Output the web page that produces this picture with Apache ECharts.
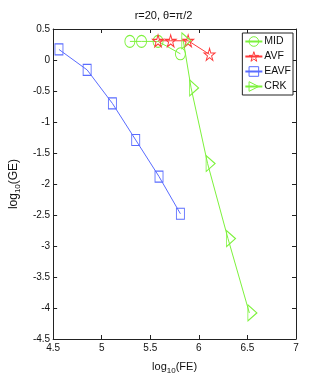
<!DOCTYPE html>
<html>
<head>
<meta charset="utf-8">
<script src="https://cdn.jsdelivr.net/npm/echarts@6/dist/echarts.min.js"></script>
<style>
  html, body { margin: 0; padding: 0; background: #fff; }
  #chart { width: 327px; height: 382px; }
</style>
</head>
<body>
<div id="chart"></div>
<script>
// log10 of function evaluations / global error
var midX = [5.29, 5.41, 5.58, 5.81]
var midY = [0.30, 0.30, 0.30, 0.10]
var avfX = [5.58, 5.71, 5.89, 6.11]
var avfY = [0.31, 0.31, 0.31, 0.09]
var eavfX = [4.56, 4.85, 5.11, 5.35, 5.59, 5.81]
var eavfY = [0.17, -0.16, -0.70, -1.29, -1.88, -2.48]
var crkX = [5.84, 5.92, 6.09, 6.30, 6.52]
var crkY = [0.31, -0.45, -1.67, -2.88, -4.08]

var xTicks = [4.5, 5, 5.5, 6, 6.5, 7]
var yTicks = [0.5, 0, -0.5, -1, -1.5, -2, -2.5, -3, -3.5, -4, -4.5]

var FONT = 'Liberation Sans'
var GREEN = '#7df23c'
var RED = '#ff3b3b'
var BLUE = '#5a6cff'
var STAR = 'path://M50,0 L61,35 L98,35 L68,57 L79,91 L50,70 L21,91 L32,57 L2,35 L39,35 Z'
var TRI = 'path://M0,0 L10,5 L0,10 Z'
var HOLLOW = 'rgba(0,0,0,0)'

function pairs(xs, ys) {
  return xs.map(function (x, i) { return [x, ys[i]] })
}

function lineSeries(name, xs, ys, color, symbol, size, offset) {
  return {
    name: name,
    type: 'line',
    data: pairs(xs, ys),
    symbol: symbol,
    symbolSize: size,
    symbolOffset: offset || [0, 0],
    showAllSymbol: true,
    animation: false,
    lineStyle: { color: color, width: 1 },
    itemStyle: { color: HOLLOW, borderColor: color, borderWidth: 1 },
    emphasis: { disabled: true }
  }
}

function legendItem(name, color) {
  return { name: name, itemStyle: { color: HOLLOW, borderColor: color, borderWidth: 1 } }
}

var axisCommon = {
  type: 'value',
  axisLine: { show: true, onZero: false, lineStyle: { color: '#222', width: 1 } },
  axisTick: { show: true, inside: true, length: 4, lineStyle: { color: '#222' } },
  splitLine: { show: false }
}

var chart = echarts.init(document.getElementById('chart'))
chart.setOption({
  backgroundColor: '#fff',
  title: {
    text: 'r=20, θ=π/2',
    left: 'center',
    top: 5,
    textStyle: { fontFamily: FONT, fontSize: 11, fontWeight: 'normal', color: '#111' }
  },
  legend: {
    orient: 'vertical',
    right: 34,
    top: 33,
    padding: [3, 2, 3, 2],
    itemGap: 4,
    itemWidth: 17,
    itemHeight: 12,
    backgroundColor: '#fff',
    borderColor: '#222',
    borderWidth: 1,
    borderRadius: 0,
    textStyle: { fontFamily: FONT, fontSize: 10.5, color: '#111', padding: [0, 0, 0, -3] },
    data: [
      legendItem('MID', GREEN),
      legendItem('AVF', RED),
      legendItem('EAVF', BLUE),
      legendItem('CRK', GREEN)
    ]
  },
  grid: { left: 42, right: 31, top: 29, bottom: 43 },
  xAxis: [
    Object.assign({}, axisCommon, {
      min: xTicks[0], max: xTicks[xTicks.length - 1], interval: 0.5,
      position: 'bottom',
      name: '{a|log}{b|10}{a|(FE)}',
      nameLocation: 'middle',
      nameGap: 20,
      nameTextStyle: {
        rich: {
          a: { fontFamily: FONT, fontSize: 11, color: '#111' },
          b: { fontFamily: FONT, fontSize: 8, color: '#111', padding: [8, 0, 0, 0] }
        }
      },
      axisLabel: { fontFamily: FONT, fontSize: 10, color: '#111', margin: 4 }
    }),
    Object.assign({}, axisCommon, {
      min: xTicks[0], max: xTicks[xTicks.length - 1], interval: 0.5,
      position: 'top',
      axisLabel: { show: false }
    })
  ],
  yAxis: [
    Object.assign({}, axisCommon, {
      min: yTicks[yTicks.length - 1], max: yTicks[0], interval: 0.5,
      position: 'left',
      name: '{a|log}{b|10}{a|(GE)}',
      nameLocation: 'middle',
      nameGap: 29,
      nameTextStyle: {
        rich: {
          a: { fontFamily: FONT, fontSize: 12, color: '#111' },
          b: { fontFamily: FONT, fontSize: 8, color: '#111', padding: [8, 0, 0, 0] }
        }
      },
      axisLabel: { fontFamily: FONT, fontSize: 10, color: '#111', margin: 3 }
    }),
    Object.assign({}, axisCommon, {
      min: yTicks[yTicks.length - 1], max: yTicks[0], interval: 0.5,
      position: 'right',
      axisLabel: { show: false }
    })
  ],
  series: [
    lineSeries('MID', midX, midY, GREEN, 'circle', [10, 12]),
    lineSeries('AVF', avfX, avfY, RED, STAR, [11, 12]),
    lineSeries('EAVF', eavfX, eavfY, BLUE, 'rect', [8, 11]),
    lineSeries('CRK', crkX, crkY, GREEN, TRI, [9, 16], [3, 0])
  ]
})
</script>
</body>
</html>
